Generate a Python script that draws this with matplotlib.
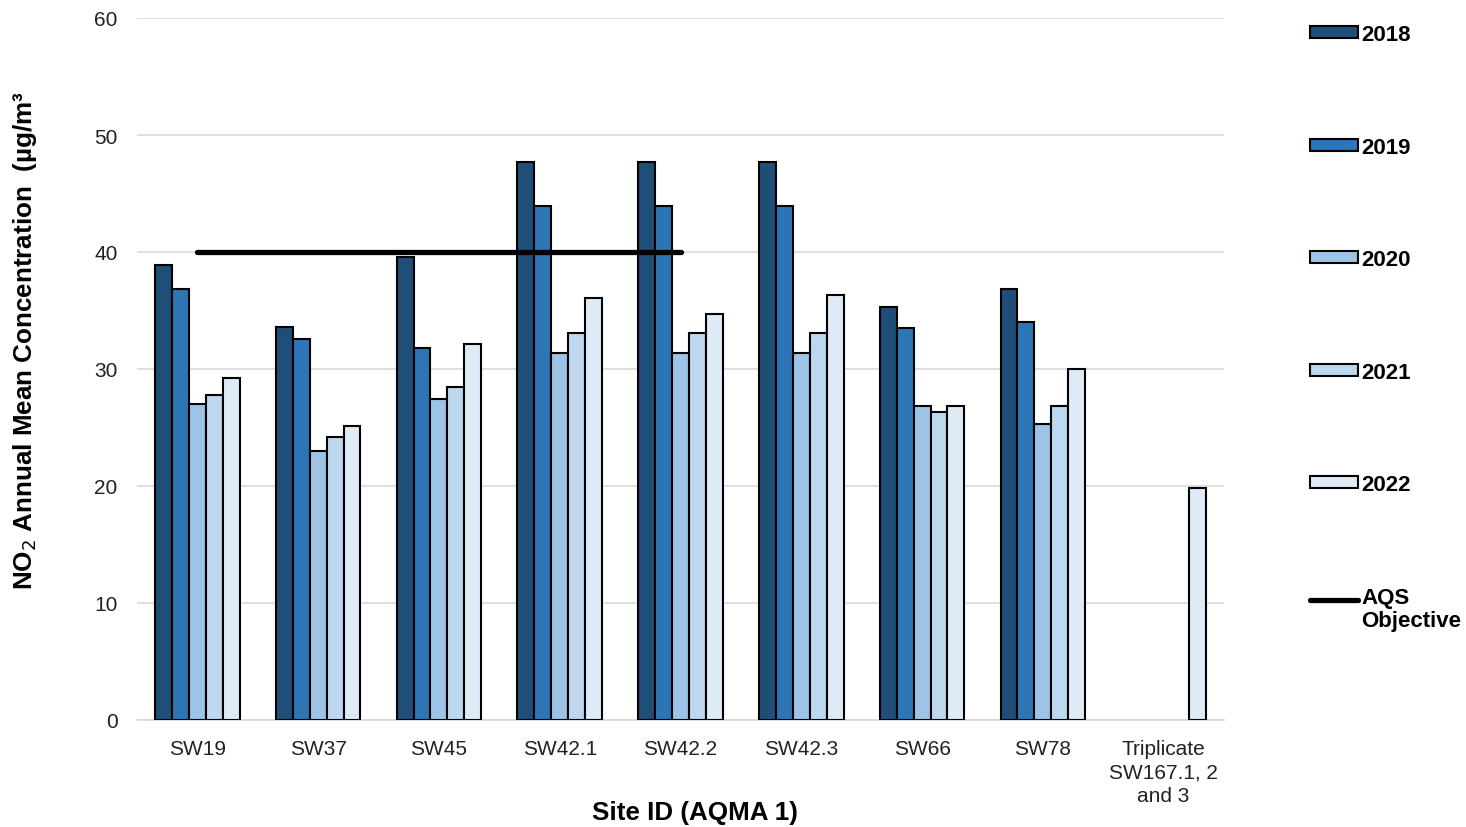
import matplotlib.pyplot as plt
import numpy as np
from matplotlib.lines import Line2D
from matplotlib.patches import Patch

plt.rcParams['font.family'] = ['Liberation Sans', 'DejaVu Sans']

# 年均浓度数据 (µg/m³)
sites = ['SW19', 'SW37', 'SW45', 'SW42.1', 'SW42.2', 'SW42.3', 'SW66', 'SW78',
         'Triplicate\nSW167.1, 2\nand 3']
years = ['2018', '2019', '2020', '2021', '2022']
no2_2018 = [38.9, 33.6, 39.6, 47.7, 47.7, 47.7, 35.3, 36.8, np.nan]
no2_2019 = [36.8, 32.6, 31.8, 43.9, 43.9, 43.9, 33.5, 34.0, np.nan]
no2_2020 = [27.0, 23.0, 27.4, 31.4, 31.4, 31.4, 26.8, 25.3, np.nan]
no2_2021 = [27.8, 24.2, 28.5, 33.1, 33.1, 33.1, 26.3, 26.8, np.nan]
no2_2022 = [29.2, 25.1, 32.1, 36.1, 34.7, 36.3, 26.8, 30.0, 19.8]
aqs_objective = 40
aqs_span = ['SW19', 'SW42.2']

colors = ['#1F4E79', '#2E75B6', '#9DC3E6', '#BDD7EE', '#DEEBF7']
series = [no2_2018, no2_2019, no2_2020, no2_2021, no2_2022]

fig = plt.figure(figsize=(14.66, 8.28), dpi=100)
ax = fig.add_axes([137 / 1466, 1 - 721 / 828, (1224 - 137) / 1466, (721 - 19) / 828])

x = np.arange(len(sites))
w = 0.14
for i, (vals, c) in enumerate(zip(series, colors)):
    ax.bar(x + (i - 2) * w, vals, width=w, color=c, edgecolor='black',
           linewidth=1.5, zorder=3)

# AQS 目标线
i0, i1 = sites.index(aqs_span[0]), sites.index(aqs_span[1])
ax.plot([x[i0], x[i1]], [aqs_objective, aqs_objective], color='black',
        linewidth=3.8, solid_capstyle='round', zorder=4)

ax.set_xlim(-0.5, len(sites) - 0.5)
ax.set_ylim(0, 60)
ax.set_yticks(range(0, 61, 10))
ax.set_xticks(x)
ax.set_xticklabels(sites, fontsize=15, linespacing=1.3)
ax.tick_params(axis='both', length=0, labelsize=15, colors='#222222')
ax.tick_params(axis='x', pad=13.5)
ax.tick_params(axis='y', pad=14)
ax.grid(axis='y', color='#D9D9D9', linewidth=1.2, zorder=0)
for s in ['top', 'right', 'left']:
    ax.spines[s].set_visible(False)
ax.spines['bottom'].set_color('#D9D9D9')
ax.spines['bottom'].set_linewidth(1.2)

fig.text(25 / 1466, 1 - 341 / 828, 'NO$_2$ Annual Mean Concentration  (µg/m³',
         rotation=90, ha='center', va='center', fontsize=18.7, fontweight='bold')
fig.text(695 / 1466, 1 - 813 / 828, 'Site ID (AQMA 1)', ha='center', va='center',
         fontsize=18.7, fontweight='bold')

handles = [Patch(facecolor=c, edgecolor='black', linewidth=1.5) for c in colors]
handles.append(Line2D([0], [0], color='black', linewidth=3.8, solid_capstyle='round'))
labels = years + ['AQS\nObjective']
leg = fig.legend(handles, labels, loc='upper left', bbox_to_anchor=(1310 / 1466, 1 - 25 / 828),
                 frameon=False, handlelength=2.15, handleheight=0.45, handletextpad=0.15,
                 labelspacing=4.12, borderpad=0, borderaxespad=0,
                 prop={'weight': 'bold', 'size': 16})
leg.get_texts()[-1].set_linespacing(1.15)
# 目标线图例放在第一行文字旁
aqs_handle = leg.legend_handles[-1]
aqs_handle.set_ydata(np.asarray(aqs_handle.get_ydata()) + 7)

fig.savefig('out.png', dpi=100)
